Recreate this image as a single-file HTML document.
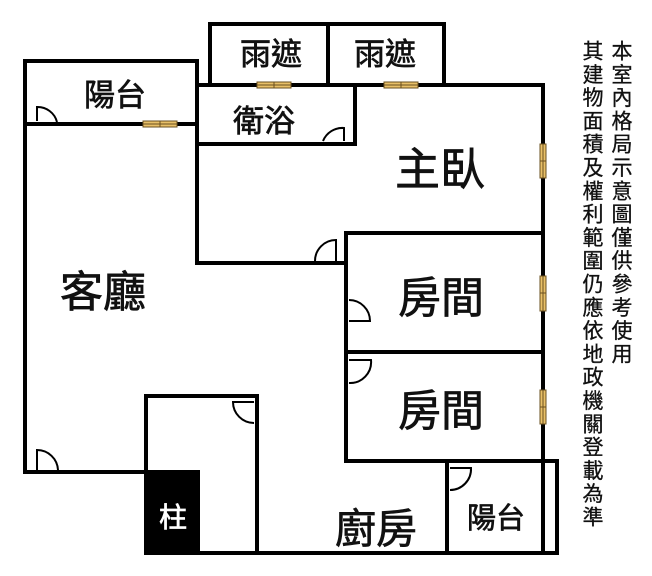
<!DOCTYPE html>
<html><head><meta charset="utf-8"><style>
body{margin:0;background:#fff;width:652px;height:576px;overflow:hidden}
svg{position:absolute;left:0;top:0}
text{font-family:"Liberation Sans","Noto Sans CJK TC",sans-serif;fill:#111;stroke:#111;stroke-width:0.7}
.v{position:absolute;top:40px;writing-mode:vertical-rl;font-family:"Liberation Sans","Noto Sans CJK TC",sans-serif;font-size:21px;line-height:24px;letter-spacing:2.3px;color:#111;-webkit-text-stroke:0.3px #111}
</style></head><body>
<svg width="652" height="576" viewBox="0 0 652 576">
<g fill="none" stroke="#000" stroke-width="4" stroke-linecap="square">
<path d="M210 85V24H444V85"/><path d="M328 24V85"/>
<path d="M25 472V61H197V85"/><path d="M25 124H197"/>
<path d="M197 85H543V553"/><path d="M355 85V144H197"/><path d="M197 85V263H346"/>
<path d="M346 233H543"/><path d="M346 233V461H543"/><path d="M346 352H543"/>
<path d="M25 472H146"/><path d="M146 553V396H257V553"/>
<path d="M146 553H557V461H543"/><path d="M447 461V553"/>
</g>
<g fill="none" stroke="#000" stroke-width="2">
<path d="M37 121V107A20 20 0 0 1 57 122"/>
<path d="M344 141V128A21 21 0 0 0 323 141"/>
<path d="M336 261V240A21 21 0 0 0 315 261"/>
<path d="M349 321H370A21 21 0 0 0 349 300"/>
<path d="M349 360H371A21 21 0 0 1 349 383"/>
<path d="M254 402H233A21 21 0 0 0 254 423"/>
<path d="M37 470V450A21 21 0 0 1 58 470"/>
<path d="M450 468H471A21 21 0 0 1 450 490"/>
</g>
<g fill="#e8c068" stroke="#6a5020" stroke-width="1">
<rect x="143" y="121" width="34" height="6"/><line x1="143" y1="124" x2="177" y2="124"/><line x1="160" y1="121" x2="160" y2="127"/>
<rect x="257" y="82" width="34" height="6"/><line x1="257" y1="85" x2="291" y2="85"/><line x1="274" y1="82" x2="274" y2="88"/>
<rect x="384" y="82" width="34" height="6"/><line x1="384" y1="85" x2="418" y2="85"/><line x1="401" y1="82" x2="401" y2="88"/>
<rect x="540" y="144" width="6" height="34"/><line x1="543" y1="144" x2="543" y2="178"/><line x1="540" y1="161" x2="546" y2="161"/>
<rect x="540" y="276" width="6" height="35"/><line x1="543" y1="276" x2="543" y2="311"/><line x1="540" y1="293" x2="546" y2="293"/>
<rect x="540" y="390" width="6" height="34"/><line x1="543" y1="390" x2="543" y2="424"/><line x1="540" y1="407" x2="546" y2="407"/>
</g>
<rect x="146" y="470" width="54" height="85" fill="#000"/>
<text x="115" y="106" font-size="31" text-anchor="middle">陽台</text>
<text x="271" y="65" font-size="31" text-anchor="middle">雨遮</text>
<text x="385" y="65" font-size="31" text-anchor="middle">雨遮</text>
<text x="264" y="132" font-size="31" text-anchor="middle">衛浴</text>
<text x="440" y="185" font-size="45" text-anchor="middle">主臥</text>
<text x="103" y="307" font-size="43" text-anchor="middle">客廳</text>
<text x="441" y="313" font-size="43" text-anchor="middle">房間</text>
<text x="441" y="426" font-size="43" text-anchor="middle">房間</text>
<text x="173" y="527" font-size="28" text-anchor="middle" style="fill:#fff;stroke:#fff">柱</text>
<text x="376" y="543" font-size="41" text-anchor="middle">廚房</text>
<text x="496" y="528" font-size="29" text-anchor="middle">陽台</text>
</svg>
<div class="v" style="left:608px">本室內格局示意圖僅供參考使用</div>
<div class="v" style="left:579px">其建物面積及權利範圍仍應依地政機關登載為準</div>
</body></html>
